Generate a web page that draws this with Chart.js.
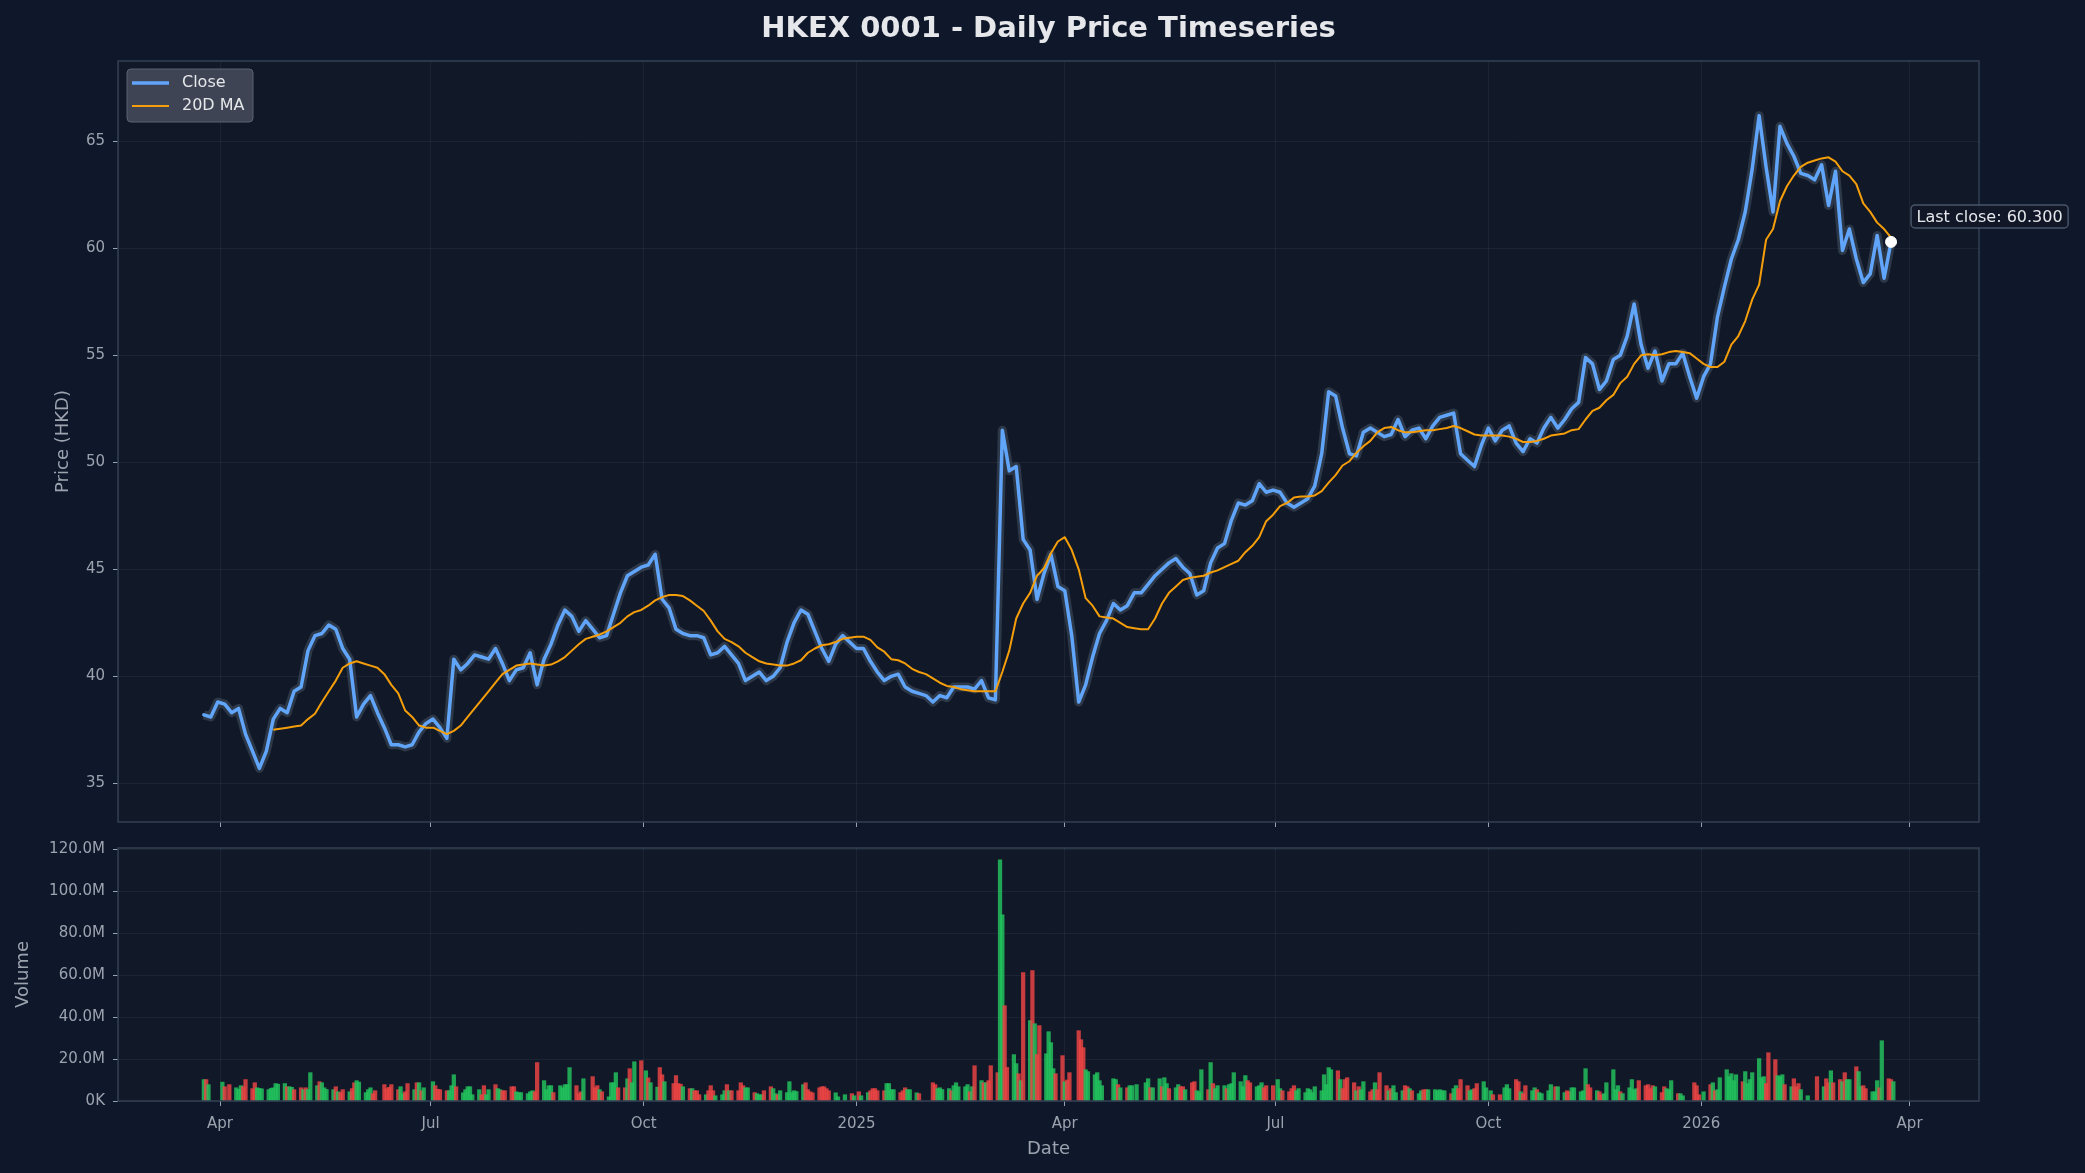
<!DOCTYPE html>
<html>
<head>
<meta charset="utf-8">
<title>HKEX 0001 - Daily Price Timeseries</title>
<script src="https://cdn.jsdelivr.net/npm/chart.js@4.4.1/dist/chart.umd.min.js"></script>
<style>
  html, body { margin: 0; padding: 0; background: #0f172a; }
  #wrap { position: relative; width: 2085px; height: 1173px; overflow: hidden; }
  #title { position: absolute; left: 118px; top: 10px; width: 1861px; text-align: center;
           font: bold 29px 'DejaVu Sans', sans-serif; line-height: 34px; color: #e5e7eb; }
  canvas { position: absolute; left: 0; }
  #priceChart { top: 0; }
  #volChart { top: 830px; }
</style>
</head>
<body>
<div id="wrap">
  <canvas id="priceChart" width="2085" height="860"></canvas>
  <canvas id="volChart" width="2085" height="343"></canvas>
  <div id="title">HKEX 0001 - Daily Price Timeseries</div>
</div>
<script>
/* DATOS */
// cierre muestreado cada 3 dias naturales desde closeStart
const closeStart = '2024-03-25';
const closeStep = 3;
const close = [
  38.2, 38.1, 38.8, 38.7, 38.3, 38.5, 37.3, 36.5, 35.7, 36.5,
  38.0, 38.5, 38.3, 39.3, 39.5, 41.2, 41.9, 42.0, 42.4, 42.2,
  41.3, 40.8, 38.1, 38.7, 39.1, 38.3, 37.6, 36.8, 36.8, 36.7,
  36.8, 37.4, 37.8, 38.0, 37.6, 37.1, 40.8, 40.3, 40.6, 41.0,
  40.9, 40.8, 41.3, 40.6, 39.8, 40.3, 40.4, 41.1, 39.6, 40.8,
  41.5, 42.4, 43.1, 42.8, 42.1, 42.6, 42.2, 41.8, 41.9, 42.9,
  43.9, 44.7, 44.9, 45.1, 45.2, 45.7, 43.6, 43.2, 42.2, 42.0,
  41.9, 41.9, 41.8, 41.0, 41.1, 41.4, 41.0, 40.6, 39.8, 40.0,
  40.2, 39.8, 40.0, 40.4, 41.6, 42.5, 43.1, 42.9, 42.1, 41.3,
  40.7, 41.5, 41.9, 41.6, 41.3, 41.3, 40.7, 40.2, 39.8, 40.0,
  40.1, 39.5, 39.3, 39.2, 39.1, 38.8, 39.1, 39.0, 39.5, 39.5,
  39.5, 39.4, 39.8, 39.0, 38.9, 51.5, 49.6, 49.8, 46.4, 45.9,
  43.6, 44.8, 45.7, 44.2, 44.0, 41.9, 38.8, 39.6, 40.9, 42.0,
  42.6, 43.4, 43.1, 43.3, 43.9, 43.9, 44.3, 44.7, 45.0, 45.3,
  45.5, 45.1, 44.8, 43.8, 44.0, 45.3, 46.0, 46.2, 47.3, 48.1,
  48.0, 48.2, 49.0, 48.6, 48.7, 48.6, 48.1, 47.9, 48.1, 48.3,
  48.9, 50.4, 53.3, 53.1, 51.6, 50.4, 50.3, 51.4, 51.6, 51.4,
  51.2, 51.3, 52.0, 51.2, 51.5, 51.6, 51.1, 51.7, 52.1, 52.2,
  52.3, 50.4, 50.1, 49.8, 50.8, 51.6, 51.0, 51.5, 51.7, 50.9,
  50.5, 51.1, 50.9, 51.6, 52.1, 51.6, 52.0, 52.5, 52.8, 54.9,
  54.6, 53.4, 53.8, 54.8, 55.0, 55.9, 57.4, 55.5, 54.4, 55.2,
  53.8, 54.6, 54.6, 55.1, 54.0, 53.0, 54.0, 54.6, 56.8, 58.2,
  59.5, 60.4, 61.7, 63.7, 66.2, 63.8, 61.7, 65.7, 64.9, 64.3,
  63.5, 63.4, 63.2, 63.9, 62.0, 63.6, 59.9, 60.9, 59.5, 58.4,
  58.8, 60.6, 58.6, 60.3
];
const ma20 = [
  null, null, null, null, null, null, null, null, null, null,
  37.5, 37.55, 37.6, 37.65, 37.7, 38.0, 38.25, 38.8, 39.3, 39.8,
  40.4, 40.6, 40.7, 40.6, 40.5, 40.4, 40.1, 39.6, 39.2, 38.4,
  38.1, 37.7, 37.6, 37.6, 37.45, 37.3, 37.45, 37.7, 38.1, 38.5,
  38.9, 39.3, 39.7, 40.1, 40.3, 40.5, 40.55, 40.6, 40.55, 40.5,
  40.55, 40.7, 40.9, 41.2, 41.5, 41.75, 41.85, 41.95, 42.1, 42.3,
  42.5, 42.8, 43.0, 43.1, 43.3, 43.55, 43.7, 43.8, 43.8, 43.75,
  43.55, 43.3, 43.05, 42.6, 42.1, 41.75, 41.6, 41.4, 41.1, 40.9,
  40.7, 40.6, 40.55, 40.5, 40.5, 40.6, 40.75, 41.1, 41.3, 41.45,
  41.5, 41.6, 41.75, 41.8, 41.85, 41.85, 41.7, 41.35, 41.15, 40.8,
  40.75, 40.6, 40.35, 40.2, 40.1, 39.9, 39.7, 39.55, 39.5, 39.4,
  39.35, 39.3, 39.3, 39.3, 39.3, 40.2, 41.2, 42.7, 43.4, 43.9,
  44.7, 45.05, 45.75, 46.3, 46.5, 45.9, 45.0, 43.65, 43.3, 42.8,
  42.75, 42.7, 42.5, 42.3, 42.25, 42.2, 42.2, 42.7, 43.4, 43.9,
  44.2, 44.5, 44.6, 44.65, 44.7, 44.85, 44.95, 45.1, 45.25, 45.4,
  45.8, 46.1, 46.5, 47.25, 47.55, 47.95, 48.1, 48.35, 48.4, 48.4,
  48.45, 48.65, 49.05, 49.4, 49.85, 50.05, 50.45, 50.75, 51.0, 51.4,
  51.6, 51.65, 51.5, 51.4, 51.4, 51.45, 51.5, 51.5, 51.55, 51.6,
  51.7, 51.6, 51.45, 51.3, 51.25, 51.25, 51.25, 51.25, 51.2, 51.1,
  50.95, 50.95, 51.0, 51.1, 51.25, 51.3, 51.35, 51.5, 51.55, 52.0,
  52.4, 52.55, 52.9, 53.15, 53.7, 54.0, 54.6, 55.0, 55.05, 55.0,
  55.05, 55.15, 55.2, 55.15, 55.1, 54.85, 54.6, 54.45, 54.45, 54.7,
  55.5, 55.9, 56.6, 57.6, 58.3, 60.4, 60.9, 62.2, 62.9, 63.4,
  63.8, 64.0, 64.1, 64.2, 64.25, 64.05, 63.6, 63.4, 63.0, 62.1,
  61.7, 61.2, 60.9, 60.5
];

// volumen diario (millones), una fila por semana lun-vie; null = festivo
const volStart = '2024-03-25';
const volume = [
  [10.2, 10.2, 7.8, null, null], [null, 9.0, 6.8, null, 7.8], [6.3, 5.5, 7.3, 6.8, 10.2],
  [5.9, 8.7, 6.3, 6.0, 5.8], [5.4, 6.0, 6.3, 8.3, 8.0], [8.3, 6.8, 6.8, 6.5, 5.4],
  [6.3, 5.4, 6.3, 5.4, 13.5], [7.3, 9.2, 8.7, 6.3, 5.5], [5.4, 6.8, 4.4, 4.0, 5.4],
  [4.4, 5.9, 8.7, 9.7, 9.0], [4.0, 5.4, 6.3, 3.5, 4.9], [null, 7.8, 5.9, 6.5, 7.8],
  [5.4, 6.8, 3.5, 4.4, 8.3], [5.4, 8.7, 8.7, 4.9, 6.3], [null, 9.2, 7.3, 5.6, 5.4],
  [4.9, 4.9, 7.3, 12.5, 6.8], [3.9, 5.4, 6.8, 6.8, 3.0], [5.4, 3.0, 7.3, 3.0, 5.4],
  [7.8, 5.9, 5.4, 4.9, 4.9], [6.8, 6.8, 4.4, 4.0, 4.0], [3.5, 4.4, 4.9, 4.4, 18.3],
  [9.7, 5.4, 7.3, 7.3, 4.0], [7.3, 6.3, 7.8, 7.8, 15.9], [7.3, 3.5, 4.4, 10.6, null],
  [11.6, 6.3, 7.3, 5.4, 4.4], [2.0, 8.7, 8.7, 13.5, 6.3], [6.3, 10.6, 15.4, 8.7, 18.7],
  [19.2, null, 14.4, 11.0, 8.7], [6.6, 15.9, 12.5, 9.2, null], [8.3, 12.1, 8.3, 8.0, 6.8],
  [5.9, 5.9, 4.9, 4.9, 3.0], [3.0, 4.9, 7.3, 4.9, 2.5], [3.0, 4.9, 7.8, 4.9, 4.9],
  [4.9, 8.7, 7.3, 6.3, 6.3], [4.0, 3.5, 3.0, 3.0, 4.9], [6.8, 5.9, 3.5, 3.0, 4.9],
  [4.0, 9.2, 4.0, 4.9, 4.5], [7.8, 8.7, 5.4, 4.4, 3.9], [6.3, 6.8, 6.8, 5.9, 4.9],
  [3.9, 2.0, null, null, 3.0], [3.5, 2.5, null, 4.4, 2.5], [4.0, 4.9, 5.9, 5.9, 4.9],
  [4.9, 8.3, 8.3, 5.4, 5.4], [4.0, 4.9, 6.3, 5.4, 5.4], [3.9, 3.5, null, null, null],
  [8.7, 7.8, 5.9, 6.3, 5.5], [5.9, 4.9, 7.3, 8.7, 6.8], [6.8, 7.8, 4.4, 6.8, 16.8],
  [9.7, 8.7, 8.7, 9.7, 16.8], [13.5, 114.9, 88.7, 45.4, 16.0], [22.1, 17.8, 13.0, 9.7, 61.1],
  [38.3, 62.1, 36.8, 22.1, 35.9], [22.5, 33.0, 27.8, 15.4, 13.0], [21.6, 9.2, 10.0, 13.5, null],
  [33.5, 29.2, 25.4, 14.9, 14.0], [12.5, 13.5, 9.7, 7.3, null], [null, 10.6, 10.2, 7.8, 6.3],
  [6.3, 7.3, 7.3, null, 7.8], [null, 8.7, 10.6, 6.3, 6.3], [10.6, 6.8, 11.1, 8.3, 5.9],
  [6.3, 7.8, 6.8, 6.8, 5.4], [8.7, 9.2, 4.9, 4.4, 14.9], [5.4, 18.3, 8.3, 5.9, 7.3],
  [7.3, 5.9, 7.8, 8.3, 13.5], [9.2, 6.8, 12.1, 9.7, 8.7], [6.8, 7.3, 8.7, 6.3, 7.3],
  [7.3, null, 10.2, 5.9, 4.9], [4.4, 5.9, 7.3, 4.9, 5.9], [4.0, 5.9, 5.4, 4.0, 6.8],
  [4.9, 12.5, 7.8, 15.9, 14.9], [14.4, 10.2, 5.9, 10.2, 11.1], [8.7, 4.9, 6.8, 5.4, 9.2],
  [4.4, 5.4, 8.7, 5.4, 13.5], [7.3, 4.9, 5.9, 7.3, 4.0], [4.9, 7.3, 6.8, 5.9, 4.9],
  [3.5, 4.9, 5.4, 5.4, 5.4], [5.4, 4.9, 5.4, 4.9, 4.9], [3.5, 5.9, 7.3, 5.9, 10.2],
  [7.3, 4.9, 5.4, 5.9, 8.3], [9.2, 6.3, null, 4.9, 3.0], [3.0, null, 6.3, 7.8, 5.9],
  [10.2, 9.2, 4.4, 3.5, 7.3], [4.9, 6.3, 5.4, 4.0, 3.5], [4.9, 7.8, null, 6.8, 6.8],
  [4.0, 4.9, 4.4, 6.3, 6.3], [4.4, 4.9, 15.4, 7.8, 6.3], [4.9, 4.4, 3.0, 3.5, 8.7],
  [14.9, 5.4, 7.3, 4.4, 3.5], [6.3, 10.2, 5.4, 5.9, 9.7], [7.3, 7.8, 5.9, 7.3, 6.8],
  [4.0, 6.8, 5.9, 5.4, 9.7], [3.5, 3.5, 2.5, null, null], [8.7, 7.3, 3.0, null, 4.4],
  [7.8, 8.7, 4.9, 5.4, 11.1], [14.9, 11.6, 13.0, 9.7, 12.5], [9.2, 14.0, 8.3, 10.2, 13.5],
  [20.2, 11.1, 11.6, 8.3, 23.0], [19.7, 12.1, 11.6, 12.5, 7.8], [6.8, 10.6, 6.8, 8.3, 5.4],
  [2.5, null, null, null, 11.6], [6.8, 10.6, 8.7, 14.4, 8.7], [10.2, 9.2, 13.5, 10.2, 10.2],
  [16.3, 14.0, 6.8, 7.3, 5.9], [4.4, 4.4, 9.7, 6.3, 28.7], [10.6, 10.2, 9.2]
];
// g = sube, r = baja (mismo orden que volume)
const volDir = [
  'grg--', '-gr-r', 'gggrr', 'rrggg', 'ggggg', 'grggr', 'rgrgg', 'grggg', 'grgrr', 'grrgg',
  'gggrr', '-rrrr', 'rggrr', 'grgrg', '-grrr', 'rgggr', 'ggggg', 'grrgg', 'rggrr', 'rrggg',
  'gggrr', 'ggggr', 'ggggg', 'rrrg-', 'rrrgr', 'ggggr', 'rgrgg', 'r-grg', 'grrg-', 'rrrrg',
  'rgrrr', 'grrrg', 'ggrgr', 'rrrgg', 'rgggr', 'rggrg', 'ggggg', 'grrrr', 'rrrrr', 'gg--g',
  'rg-rg', 'grrrr', 'rgggg', 'rrrgg', 'gr---', 'rrggg', 'grggg', 'ggrgr', 'grgrr', 'rggrr',
  'ggrgr', 'grgrr', 'ggggr', 'rgrr-', 'rrrgg', 'gggg-', '-ggrg', 'rgg-g', '-ggrg', 'grggr',
  'ggrrg', 'rrggg', 'rgrgg', 'grggg', 'gggrr', 'gggrr', 'r-ggr', 'rrrgg', 'ggggg', 'ggggg',
  'rgrrr', 'rgrgg', 'rrgrr', 'rgrgg', 'grrgr', 'ggrrg', 'ggggg', 'rggrr', 'rggrr', 'gg-gr',
  'r-ggg', 'rrgrr', 'ggrgg', 'gg-rg', 'grrgg', 'gggrr', 'grrgg', 'gggrg', 'ggggr', 'rrrrg',
  'rrggg', 'rgg--', 'rrr-g', 'rgrgg', 'ggggg', 'rgggg', 'gggrr', 'rgggr', 'grrrg', 'g---r',
  'grrgr', 'rgrgg', 'rggrr', 'gggrg', 'rrg'
];

const tickDates = ['2024-04-01', '2024-07-01', '2024-10-01', '2025-01-01', '2025-04-01',
                   '2025-07-01', '2025-10-01', '2026-01-01', '2026-04-01'];
const tickLabels = ['Apr', 'Jul', 'Oct', '2025', 'Apr', 'Jul', 'Oct', '2026', 'Apr'];
const priceTicks = [35, 40, 45, 50, 55, 60, 65];
const volTicks = [0, 20, 40, 60, 80, 100, 120];

/* UTILIDADES */
const ORIGIN = Date.UTC(2024, 3, 1);
function dayOf(iso) {
  const [y, m, d] = iso.split('-').map(Number);
  return (Date.UTC(y, m - 1, d) - ORIGIN) / 86400000;
}

const c0 = dayOf(closeStart);
const closePts = close.map((v, i) => ({ x: c0 + i * closeStep, y: v }));
const maPts = ma20.map((v, i) => ({ x: c0 + i * closeStep, y: v }));
const lastPt = closePts[closePts.length - 1];

const v0 = dayOf(volStart);
const volPts = [];
const volColors = [];
volume.forEach((week, k) => week.forEach((v, j) => {
  if (v === null) return;
  volPts.push({ x: v0 + 7 * k + j, y: v });
  volColors.push(volDir[k][j] === 'g' ? 'rgba(34,197,94,0.82)' : 'rgba(239,68,68,0.82)');
}));
const tickDays = tickDates.map(dayOf);

Chart.defaults.font.family = "'DejaVu Sans', sans-serif";
Chart.defaults.font.size = 15;
Chart.defaults.color = '#9ca3af';

const GRID = 'rgba(148,163,184,0.09)';
const X_MIN = -44.1, X_MAX = 760;

function xAxis(showLabels, height) {
  return {
    type: 'linear', min: X_MIN, max: X_MAX, offset: false,
    afterBuildTicks: s => { s.ticks = tickDays.map(v => ({ value: v })); },
    afterFit: s => { s.height = height; },
    grid: { color: GRID, offset: false, drawTicks: true, tickLength: 5, tickColor: '#94a3b8' },
    border: { display: false },
    ticks: {
      display: showLabels, color: '#9ca3af', font: { size: 15 }, padding: 9,
      maxRotation: 0, autoSkip: false, callback: (v, i) => tickLabels[i],
    },
    title: { display: showLabels, text: 'Date', color: '#9ca3af', font: { size: 18 }, padding: { top: 4, bottom: 4 } },
  };
}

/* FONDO Y MARCO DEL PANEL */
const panelFrame = {
  id: 'panelFrame',
  beforeDraw(chart) {
    const { ctx, chartArea: a } = chart;
    ctx.save();
    ctx.fillStyle = '#111827';
    ctx.fillRect(a.left, a.top, a.right - a.left, a.bottom - a.top);
    ctx.restore();
  },
  afterDraw(chart) {
    const { ctx, chartArea: a } = chart;
    ctx.save();
    ctx.strokeStyle = '#334155';
    ctx.lineWidth = 1.5;
    ctx.strokeRect(a.left, a.top, a.right - a.left, a.bottom - a.top);
    ctx.restore();
  },
};

/* LEYENDA Y ETIQUETA DEL ULTIMO CIERRE */
const overlay = {
  id: 'overlay',
  afterDraw(chart) {
    const { ctx, chartArea: a } = chart;
    ctx.save();
    // leyenda
    const lx = a.left + 9, ly = a.top + 8;
    ctx.beginPath();
    ctx.roundRect(lx, ly, 126, 53, 4);
    ctx.fillStyle = 'rgba(66,73,87,0.92)';
    ctx.fill();
    ctx.strokeStyle = '#5b6270';
    ctx.lineWidth = 1;
    ctx.stroke();
    ctx.lineCap = 'butt';
    ctx.strokeStyle = '#60a5fa'; ctx.lineWidth = 3.5;
    ctx.beginPath(); ctx.moveTo(lx + 5, ly + 14); ctx.lineTo(lx + 42, ly + 14); ctx.stroke();
    ctx.strokeStyle = '#f59e0b'; ctx.lineWidth = 2;
    ctx.beginPath(); ctx.moveTo(lx + 5, ly + 37); ctx.lineTo(lx + 42, ly + 37); ctx.stroke();
    ctx.font = "16px 'DejaVu Sans'";
    ctx.fillStyle = '#e5e7eb';
    ctx.textBaseline = 'middle';
    ctx.fillText('Close', lx + 55, ly + 14);
    ctx.fillText('20D MA', lx + 55, ly + 37);

    // etiqueta del ultimo cierre
    const pt = chart.getDatasetMeta(0).data[0];
    const text = 'Last close: ' + lastPt.y.toFixed(3);
    const tw = ctx.measureText(text).width;
    const bx = pt.x + 20, by = pt.y - 37, bw = tw + 11, bh = 23;
    ctx.beginPath();
    ctx.roundRect(bx, by, bw, bh, 4);
    ctx.fillStyle = 'rgba(17,24,39,0.92)';
    ctx.fill();
    ctx.strokeStyle = '#475569';
    ctx.lineWidth = 1.5;
    ctx.stroke();
    ctx.fillStyle = '#e5e7eb';
    ctx.fillText(text, bx + 5.5, by + bh / 2 + 1);
    ctx.restore();
  },
};

/* GRAFICA 1: PRECIO */
function renderPrice() {
  const ctx = document.getElementById('priceChart').getContext('2d');
  window.priceChart = new Chart(ctx, {
    type: 'line',
    data: {
      datasets: [
        {
          label: 'Last',
          data: [lastPt],
          showLine: false,
          pointRadius: 5.5,
          pointBackgroundColor: '#ffffff',
          pointBorderColor: '#ffffff',
          order: 0,
        },
        {
          label: '20D MA',
          data: maPts,
          borderColor: '#f59e0b',
          borderWidth: 2,
          pointRadius: 0,
          tension: 0,
          borderJoinStyle: 'round',
          order: 1,
        },
        {
          label: 'Close',
          data: closePts,
          borderColor: '#60a5fa',
          borderWidth: 3.5,
          pointRadius: 0,
          tension: 0,
          borderJoinStyle: 'round',
          borderCapStyle: 'round',
          order: 2,
        },
        {
          label: 'Range',
          data: closePts,
          borderColor: 'rgba(71,85,105,0.5)',
          borderWidth: 9,
          pointRadius: 0,
          tension: 0,
          borderJoinStyle: 'round',
          order: 3,
        },
      ],
    },
    options: {
      responsive: false,
      animation: false,
      events: [],
      layout: { padding: { left: 49, right: 106, top: 61, bottom: 0 } },
      plugins: { legend: { display: false }, tooltip: { enabled: false } },
      scales: {
        x: xAxis(false, 38),
        y: {
          type: 'linear', min: 33.192, max: 68.752,
          afterBuildTicks: s => { s.ticks = priceTicks.map(v => ({ value: v })); },
          afterFit: s => { s.width = 69; },
          grid: { color: GRID, drawTicks: true, tickLength: 5, tickColor: '#94a3b8' },
          border: { display: false },
          ticks: { color: '#9ca3af', font: { size: 15 }, padding: 8, callback: v => v },
          title: { display: true, text: 'Price (HKD)', color: '#9ca3af', font: { size: 18 }, padding: { top: 4, bottom: 4 } },
        },
      },
    },
    plugins: [panelFrame, overlay],
  });
}

/* GRAFICA 2: VOLUMEN */
function renderVolume() {
  const ctx = document.getElementById('volChart').getContext('2d');
  window.volChart = new Chart(ctx, {
    type: 'bar',
    data: {
      datasets: [{
        label: 'Volume',
        data: volPts,
        backgroundColor: volColors,
        barThickness: 3.6,
        borderWidth: 0,
      }],
    },
    options: {
      responsive: false,
      animation: false,
      events: [],
      layout: { padding: { left: 9, right: 106, top: 18, bottom: 9 } },
      plugins: { legend: { display: false }, tooltip: { enabled: false } },
      scales: {
        x: xAxis(true, 63),
        y: {
          type: 'linear', min: 0, max: 120.48,
          afterBuildTicks: s => { s.ticks = volTicks.map(v => ({ value: v })); },
          afterFit: s => { s.width = 109; },
          grid: { color: GRID, drawTicks: true, tickLength: 5, tickColor: '#94a3b8' },
          border: { display: false },
          ticks: {
            color: '#9ca3af', font: { size: 15 }, padding: 8,
            callback: v => (v === 0 ? '0K' : v.toFixed(1) + 'M'),
          },
          title: { display: true, text: 'Volume', color: '#9ca3af', font: { size: 18 }, padding: { top: 4, bottom: 4 } },
        },
      },
    },
    plugins: [panelFrame],
  });
}

/* INIT */
renderPrice();
renderVolume();
</script>
</body>
</html>
